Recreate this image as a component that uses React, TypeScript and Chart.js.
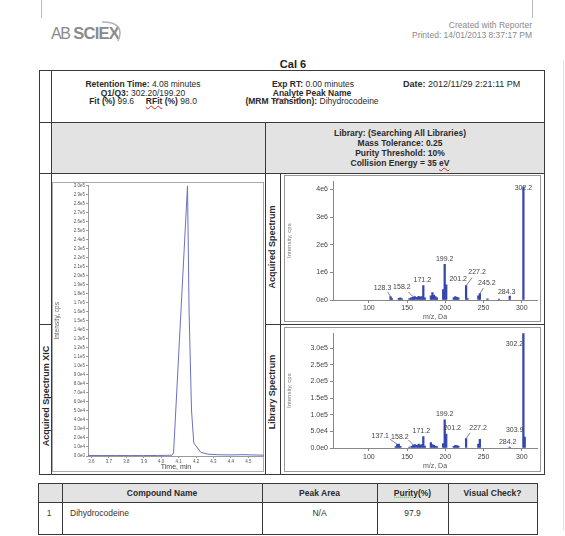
import React, { useEffect, useRef } from "react";
import { Chart, registerables } from "chart.js";
Chart.register(...registerables);

const FONT = '"Liberation Sans", Arial, Helvetica, sans-serif';

// ---------------- data ----------------
const xicTime = [3.58, 3.66, 3.74, 3.82, 3.9, 3.98, 4.03, 4.062, 4.071, 4.151, 4.16, 4.174, 4.187, 4.228, 4.269, 4.33, 4.4, 4.47, 4.52, 4.59];
const xicIntensity = [600, 500, 600, 500, 500, 600, 700, 900, 3300, 300000, 161000, 51000, 14400, 4000, 2000, 1400, 1200, 1500, 1200, 900];

const acqMz = [128.3, 130.1, 139.1, 141.2, 143.2, 153.1, 155.1, 157.1, 158.2, 160.1, 163.1, 165.1, 167.1, 169.1, 171.2, 173.1, 181.1, 183.1, 185.1, 187.1, 189.1, 197.2, 199.2, 201.2, 211.1, 213.1, 215.1, 217.1, 227.2, 229.1, 243.2, 245.2, 255.2, 270.2, 284.3, 302.2];
const acqIntensity = [120000, 50000, 60000, 80000, 40000, 50000, 80000, 90000, 110000, 120000, 100000, 130000, 110000, 120000, 520000, 80000, 150000, 270000, 180000, 120000, 80000, 380000, 1290000, 550000, 90000, 120000, 100000, 80000, 520000, 50000, 150000, 230000, 40000, 30000, 140000, 4100000];
const acqLabelMz = [128.3, 158.2, 171.2, 199.2, 201.2, 227.2, 245.2, 284.3, 302.2];
const acqYTicks = [0, 1000000, 2000000, 3000000, 4000000];

const libMz = [135.1, 137.1, 139.1, 141.1, 153.1, 156.1, 158.2, 160.1, 163.1, 165.1, 167.1, 169.1, 171.2, 173.1, 181.1, 183.1, 185.1, 187.1, 189.1, 197.2, 199.2, 201.2, 211.1, 213.1, 215.1, 217.1, 227.2, 243.2, 245.2, 284.2, 302.2, 303.9];
const libIntensity = [4000, 11000, 12000, 5000, 3000, 6000, 9000, 10000, 8000, 12000, 9000, 10000, 34000, 6000, 16000, 10000, 8000, 6000, 4000, 13000, 85000, 42000, 5000, 8000, 7000, 6000, 28000, 12000, 26000, 3000, 345000, 33000];
const libLabelMz = [137.1, 158.2, 171.2, 199.2, 201.2, 227.2, 284.2, 302.2, 303.9];
const libYTicks = [0, 50000, 100000, 150000, 200000, 250000, 300000];

const mzTicks = [100, 150, 200, 250, 300];

const tableHeaders = ["", "Compound Name", "Peak Area", "Purity(%)", "Visual Check?"];
const tableRow = ["1", "Dihydrocodeine", "N/A", "97.9", ""];

// ---------------- label placement (style only) ----------------
type LStyle = { dx: number; dy: number; lead?: [number, number] };
const ACQ_LABEL_STYLE: Record<string, LStyle> = {
  "128.3": { dx: -8, dy: -8.5, lead: [-3, -5] },
  "158.2": { dx: -11.5, dy: -10, lead: [-5, -5] },
  "171.2": { dx: -1, dy: -5.5 },
  "199.2": { dx: 0, dy: -5.5 },
  "201.2": { dx: 12, dy: -6 },
  "227.2": { dx: 11, dy: -14, lead: [6, -8] },
  "245.2": { dx: 7, dy: -11, lead: [3.5, -5.5] },
  "284.3": { dx: -3, dy: -4.5 },
  "302.2": { dx: 0, dy: 1 },
};
const LIB_LABEL_STYLE: Record<string, LStyle> = {
  "137.1": { dx: -17, dy: -8, lead: [-7, -5] },
  "158.2": { dx: -13.5, dy: -8, lead: [-5, -5] },
  "171.2": { dx: -2, dy: -5.5 },
  "199.2": { dx: 0, dy: -5.5 },
  "201.2": { dx: 6, dy: -5.5 },
  "227.2": { dx: 12, dy: -10.5, lead: [4, -6] },
  "284.2": { dx: -2, dy: -4.5 },
  "302.2": { dx: -9, dy: 11, lead: [-1, 5] },
  "303.9": { dx: -10, dy: -6.5 },
};

const expFmt = (digits: number) => (v: any) => Number(v).toExponential(digits).replace("e+", "e");
const fixedTicks = (vals: number[]) => (s: any) => { s.ticks = vals.map((v) => ({ value: v })); };

function makeLabelPlugin(mzs: number[], ints: number[], labels: number[], styles: Record<string, LStyle>) {
  return {
    id: "peakLabels",
    afterDatasetsDraw(chart: any) {
      const { ctx, scales } = chart;
      const xs = scales.x, ys = scales.y;
      ctx.save();
      ctx.font = `7px ${FONT}`;
      ctx.fillStyle = "#444";
      ctx.strokeStyle = "#666";
      ctx.lineWidth = 0.8;
      ctx.textAlign = "center";
      ctx.textBaseline = "middle";
      labels.forEach((mz) => {
        const idx = mzs.indexOf(mz);
        if (idx < 0) return;
        const key = mz.toFixed(1);
        const st = styles[key] || { dx: 0, dy: -5 };
        const px = xs.getPixelForValue(mz);
        const py = ys.getPixelForValue(ints[idx]);
        if (st.lead) {
          ctx.beginPath();
          ctx.moveTo(px, py);
          ctx.lineTo(px + st.lead[0], py + st.lead[1]);
          ctx.stroke();
        }
        ctx.fillText(key, px + st.dx, py + st.dy);
      });
      ctx.restore();
    },
  };
}

function spectrumConfig(
  mzs: number[], ints: number[], labels: number[], styles: Record<string, LStyle>,
  yMax: number, yTicks: number[], yDigits: number, xAxisH: number, padTop: number, titlePadB: number, tickPad: number
): any {
  return {
    type: "bar",
    data: {
      datasets: [{
        data: mzs.map((m, i) => ({ x: m, y: ints[i] })),
        backgroundColor: "#3546ad",
        borderWidth: 0,
        barThickness: 1.6,
      }],
    },
    options: {
      responsive: false,
      animation: false,
      events: [],
      layout: { padding: { top: padTop, right: 3, left: 0, bottom: 0 } },
      plugins: { legend: { display: false }, tooltip: { enabled: false } },
      scales: {
        x: {
          type: "linear", min: 53, max: 320, offset: false,
          grid: { display: true, offset: false, drawOnChartArea: false, drawTicks: true, tickLength: 3, color: "#888" },
          border: { display: true, color: "#888" },
          ticks: { autoSkip: false, maxRotation: 0, padding: tickPad, color: "#444", font: { family: FONT, size: 7 } },
          afterBuildTicks: fixedTicks(mzTicks),
          title: { display: true, text: "m/z, Da", color: "#555", font: { family: FONT, size: 7 }, padding: { top: 0, bottom: titlePadB } },
          afterFit: (s: any) => { s.height = xAxisH; },
        },
        y: {
          type: "linear", min: 0, max: yMax,
          grid: { display: true, drawOnChartArea: false, drawTicks: true, tickLength: 3, color: "#888" },
          border: { display: true, color: "#888" },
          ticks: { autoSkip: false, padding: 2, color: "#444", font: { family: FONT, size: 7 }, callback: expFmt(yDigits) },
          afterBuildTicks: fixedTicks(yTicks),
          title: { display: true, text: "Intensity, cps", color: "#777", font: { family: FONT, size: 6 }, padding: { top: 2, bottom: 0 } },
          afterFit: (s: any) => { s.width = 49; },
        },
      },
    },
    plugins: [makeLabelPlugin(mzs, ints, labels, styles)],
  };
}

// ---------------- layout helpers ----------------
const abs = (s: React.CSSProperties): React.CSSProperties => ({ position: "absolute", ...s });
const HL = (x1: number, x2: number, y: number, c = "#3a3a3a", k?: any) => <div key={k} style={abs({ left: x1, top: y, width: x2 - x1, height: 1, background: c })} />;
const VL = (x: number, y1: number, y2: number, c = "#3a3a3a", k?: any) => <div key={k} style={abs({ left: x, top: y1, width: 1, height: y2 - y1, background: c })} />;

function T(props: { x: number; y: number; size?: number; bold?: boolean; color?: string; align?: "center" | "left" | "right"; rot?: boolean; children: any }) {
  const { x, y, size = 8.5, bold = false, color = "#2a2a2a", align = "center", rot = false } = props;
  const tx = align === "center" ? "-50%" : align === "right" ? "-100%" : "0";
  return (
    <div style={abs({
      left: x, top: y, whiteSpace: "nowrap", lineHeight: 1, fontFamily: FONT, fontSize: size,
      fontWeight: bold ? 700 : 400, color,
      transform: `translate(${tx}, -50%)${rot ? " rotate(-90deg)" : ""}`,
    })}>{props.children}</div>
  );
}

const wavy: React.CSSProperties = { textDecoration: "underline wavy #d22", textDecorationThickness: "1px", textUnderlineOffset: "1px" };

export default function App() {
  const xicRef = useRef<HTMLCanvasElement>(null);
  const acqRef = useRef<HTMLCanvasElement>(null);
  const libRef = useRef<HTMLCanvasElement>(null);

  useEffect(() => {
    const xic = new Chart(xicRef.current!, {
      type: "line",
      data: {
        datasets: [{
          data: xicTime.map((t, i) => ({ x: t, y: xicIntensity[i] })),
          borderColor: "#6b70c2", borderWidth: 1, pointRadius: 0, tension: 0, fill: false,
        }],
      },
      options: {
        responsive: false, animation: false, events: [],
        layout: { padding: { top: 3, right: 0, left: 0, bottom: 0 } },
        plugins: { legend: { display: false }, tooltip: { enabled: false } },
        scales: {
          x: {
            type: "linear", min: 3.58, max: 4.59,
            grid: { display: true, drawOnChartArea: false, drawTicks: true, tickLength: 2, color: "#999" },
            border: { display: true, color: "#999" },
            ticks: { stepSize: 0.1, includeBounds: false, autoSkip: false, maxRotation: 0, padding: 1, color: "#555", font: { family: FONT, size: 4.5 }, callback: (v: any) => Number(v).toFixed(1) },
            title: { display: true, text: "Time, min", color: "#444", font: { family: FONT, size: 7 }, padding: { top: 0, bottom: 1 } },
            afterFit: (s: any) => { s.height = 16; },
          },
          y: {
            type: "linear", min: 0, max: 300000,
            grid: { display: true, drawOnChartArea: false, drawTicks: true, tickLength: 2, color: "#999" },
            border: { display: true, color: "#999" },
            ticks: { stepSize: 10000, includeBounds: false, autoSkip: false, padding: 1, color: "#555", font: { family: FONT, size: 4.5 }, callback: expFmt(1) },
            title: { display: true, text: "Intensity, cps", color: "#666", font: { family: FONT, size: 6.5 }, padding: { top: 1, bottom: 0 } },
            afterFit: (s: any) => { s.width = 36; },
          },
        },
      } as any,
    });
    const acq = new Chart(acqRef.current!, spectrumConfig(acqMz, acqIntensity, acqLabelMz, ACQ_LABEL_STYLE, 4300000, acqYTicks, 0, 21, 2, 0, 1));
    const lib = new Chart(libRef.current!, spectrumConfig(libMz, libIntensity, libLabelMz, LIB_LABEL_STYLE, 345000, libYTicks, 1, 23, 1, 1, 2));
    return () => { xic.destroy(); acq.destroy(); lib.destroy(); };
  }, []);

  const cols = [38, 62, 262, 377, 448, 537];
  const centers = cols.slice(0, -1).map((c, i) => (c + cols[i + 1]) / 2);

  return (
    <div style={abs({ left: 0, top: 0, width: 565, height: 536, background: "#fff", overflow: "hidden", fontFamily: FONT })}>
      {/* faint page frame */}
      {VL(41, 0, 18, "#bbb", "pf1")}
      {VL(532, 0, 18, "#bbb", "pf2")}
      {VL(563, 60, 530, "#e2e2e2", "pf3")}

      {/* logo */}
      <div style={abs({ left: 51, top: 25, lineHeight: 1, color: "#8a8a8a", whiteSpace: "nowrap" })}>
        <span style={{ fontSize: 16, fontWeight: 400, letterSpacing: -1.5 }}>AB</span>
        <span style={{ fontSize: 16.5, fontWeight: 700, letterSpacing: -0.8, marginLeft: 4 }}>SCIEX</span>
      </div>
      <svg style={abs({ left: 0, top: 0 })} width={565} height={60}>
        <path d="M 102 22 Q 126 22 118 41" stroke="#b0b0b0" strokeWidth={1.5} fill="none" />
      </svg>
      <T x={532} y={25} align="right" color="#8a8a8a" size={8.5}>Created with Reporter</T>
      <T x={532} y={35} align="right" color="#8a8a8a" size={8.5}>Printed: 14/01/2013 8:37:17 PM</T>

      <T x={293} y={64} bold size={11} color="#222">Cal 6</T>

      {/* main table lines */}
      {HL(39, 545, 70, undefined, "m1")}
      {HL(39, 545, 122, undefined, "m2")}
      {HL(39, 545, 173, undefined, "m3")}
      {HL(39, 545, 474, undefined, "m4")}
      {HL(39, 51, 324, undefined, "m5")}
      {HL(265, 545, 324, undefined, "m6")}
      {VL(39, 70, 475, undefined, "v1")}
      {VL(51, 70, 475, undefined, "v2")}
      {VL(544, 70, 475, undefined, "v3")}
      {VL(265, 122, 475, undefined, "v4")}
      {VL(280, 173, 475, undefined, "v5")}
      <div style={abs({ left: 52, top: 123, width: 492, height: 50, background: "#e3e3e3" })} />
      {VL(265, 122, 173, undefined, "v4b")}

      {/* header info */}
      <T x={143} y={84}><b>Retention Time:</b>  4.08 minutes</T>
      <T x={143} y={93}><b>Q1/Q3:</b> 302.20/199.20</T>
      <T x={143} y={101}><b>Fit (%)</b> 99.6&nbsp;&nbsp;&nbsp;&nbsp; <b><span style={wavy}>RFit</span> (%)</b> 98.0</T>
      <T x={313} y={84}><b>Exp RT:</b> 0.00 minutes</T>
      <T x={312} y={93} bold><span style={wavy}>Analyte</span> Peak Name</T>
      <T x={312} y={101}><b>(MRM Transition):</b> Dihydrocodeine</T>
      <T x={403} y={84} align="left" size={9}><b>Date:</b> 2012/11/29 2:21:11 PM</T>

      {/* library info */}
      <T x={400} y={133} bold>Library: (Searching All Libraries)</T>
      <T x={400} y={143} bold>Mass Tolerance: 0.25</T>
      <T x={400} y={153} bold>Purity Threshold: 10%</T>
      <T x={400} y={163} bold>Collision Energy =  35 <span style={wavy}>eV</span></T>

      {/* vertical labels */}
      <T x={46} y={396} bold size={9} rot>Acquired Spectrum XIC</T>
      <T x={272} y={247} bold size={9} rot>Acquired Spectrum</T>
      <T x={272} y={392} bold size={9} rot>Library Spectrum</T>

      {/* chart boxes */}
      <div style={abs({ left: 52, top: 182, width: 212, height: 290, border: "1px solid #aaa", boxSizing: "border-box" })} />
      <div style={abs({ left: 284, top: 175, width: 257, height: 147, border: "1px solid #999", boxSizing: "border-box" })} />
      <div style={abs({ left: 284, top: 327, width: 257, height: 145, border: "1px solid #999", boxSizing: "border-box" })} />

      <canvas ref={xicRef} width={212} height={290} style={abs({ left: 52, top: 182 })} />
      <canvas ref={acqRef} width={256} height={146} style={abs({ left: 284, top: 175 })} />
      <canvas ref={libRef} width={256} height={144} style={abs({ left: 284, top: 327 })} />

      {/* bottom table */}
      <div style={abs({ left: 39, top: 484, width: 498, height: 18, background: "#e3e3e3" })} />
      {HL(38, 538, 483, undefined, "b1")}
      {HL(38, 538, 502, undefined, "b2")}
      {HL(38, 538, 534, undefined, "b3")}
      {cols.map((c, i) => VL(c, 483, 535, undefined, "bc" + i))}
      {tableHeaders.map((h, i) => h ? (
        <T key={"th" + i} x={centers[i]} y={493} bold>
          {h === "Purity(%)" ? <><span style={{ textDecoration: "underline dotted #4a4", textUnderlineOffset: "1px" }}>Purity</span>(%)</> : h}
        </T>
      ) : null)}
      <T x={centers[0] - 1} y={513} color="#444">{tableRow[0]}</T>
      <T x={70} y={513} align="left" color="#333">{tableRow[1]}</T>
      <T x={centers[2]} y={513} color="#333">{tableRow[2]}</T>
      <T x={centers[3]} y={513} color="#333">{tableRow[3]}</T>
      <T x={centers[4]} y={513} color="#333">{tableRow[4]}</T>
    </div>
  );
}
